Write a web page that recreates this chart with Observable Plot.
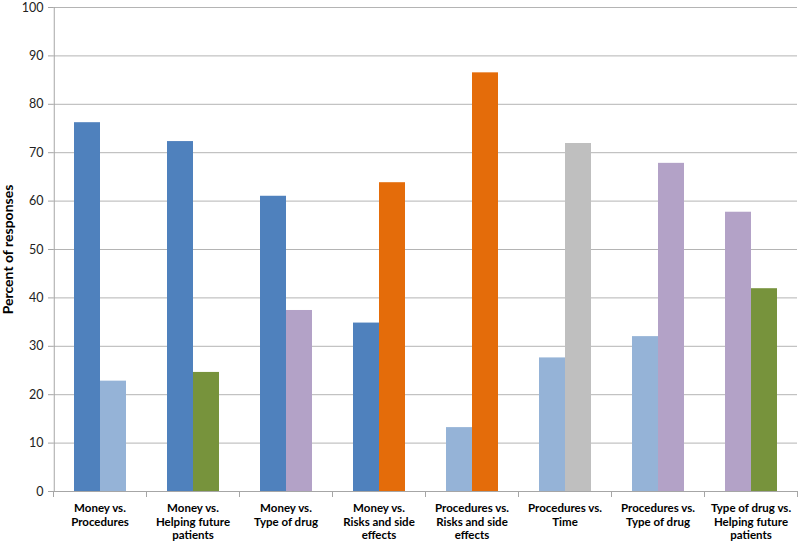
<!DOCTYPE html>
<html>
<head>
<meta charset="utf-8">
<script src="https://cdn.jsdelivr.net/npm/d3@7"></script>
<script src="https://cdn.jsdelivr.net/npm/@observablehq/plot@0.6"></script>
<style>
  html, body { margin: 0; padding: 0; background: #fff; }
</style>
</head>
<body>
<div id="chart"></div>
<script>
// ---- data ----
const groups = [
  "Money vs.\nProcedures",
  "Money vs.\nHelping future\npatients",
  "Money vs.\nType of drug",
  "Money vs.\nRisks and side\neffects",
  "Procedures vs.\nRisks and side\neffects",
  "Procedures vs.\nTime",
  "Procedures vs.\nType of drug",
  "Type of drug vs.\nHelping future\npatients"
];
const firstFactor = ["Money", "Money", "Money", "Money", "Procedures", "Procedures", "Procedures", "Type of drug"];
const secondFactor = ["Procedures", "Helping future patients", "Type of drug", "Risks and side effects", "Risks and side effects", "Time", "Type of drug", "Helping future patients"];
const firstValues = [76.2, 72.3, 61.0, 34.8, 13.2, 27.6, 32.0, 57.7];
const secondValues = [22.8, 24.6, 37.4, 63.8, 86.5, 71.9, 67.8, 41.9];
const factors = ["Money", "Procedures", "Helping future patients", "Type of drug", "Risks and side effects", "Time"];
const factorColors = ["#4f81bd", "#95b3d7", "#77933c", "#b3a2c7", "#e46c0a", "#bfbfbf"];
const yTicks = [0, 10, 20, 30, 40, 50, 60, 70, 80, 90, 100];

const rows = [];
groups.forEach((g, i) => {
  rows.push({group: g, side: "first", factor: firstFactor[i], value: firstValues[i]});
  rows.push({group: g, side: "second", factor: secondFactor[i], value: secondValues[i]});
});

const gray = "#a6a6a6";

const chart = Plot.plot({
  width: 800,
  height: 541,
  marginLeft: 53,
  marginRight: 3,
  marginTop: 7,
  marginBottom: 50,
  style: {fontFamily: "Lato, 'Open Sans', sans-serif", fontSize: "11px", color: "#000", background: "#fff"},
  fx: {domain: groups, paddingInner: 0, paddingOuter: 0, label: null},
  x: {domain: ["first", "second"], paddingInner: 0, paddingOuter: 0.755, axis: null},
  y: {domain: [0, 100], label: null},
  color: {domain: factors, range: factorColors},
  marks: [
    Plot.gridY(yTicks, {stroke: "#b4b4b4", strokeOpacity: 1, strokeWidth: 1}),
    Plot.barY(rows, {fx: "group", x: "side", y: "value", fill: "factor"}),
    Plot.ruleY([0], {stroke: gray}),
    Plot.ruleX(groups.slice(0, 1), {fx: d => d, x: () => "first", y1: 0, y2: 100, stroke: gray, dx: -33.25}),
    Plot.axisY(yTicks, {tickSize: 5, tickPadding: 5, stroke: gray, fill: "#222", fontSize: 12.5, label: null}),
    Plot.axisY([], {label: "Percent of responses", labelAnchor: "center", labelArrow: "none", labelOffset: 50, fontSize: 14, fontWeight: "bold", tickSize: 0}),
    Plot.axisFx({anchor: "bottom", tickSize: 0, tickPadding: 11, fontWeight: "bold", fontSize: 11.5, lineHeight: 1.17, fill: "#000", label: null}),
    Plot.axisFx({anchor: "bottom", tickSize: 6, tickFormat: () => "", stroke: gray, dx: -46.5, label: null}),
    Plot.axisFx(groups.slice(-1), {anchor: "bottom", tickSize: 6, tickFormat: () => "", stroke: gray, dx: 46.5, label: null})
  ]
});
document.getElementById("chart").appendChild(chart);
</script>
</body>
</html>
